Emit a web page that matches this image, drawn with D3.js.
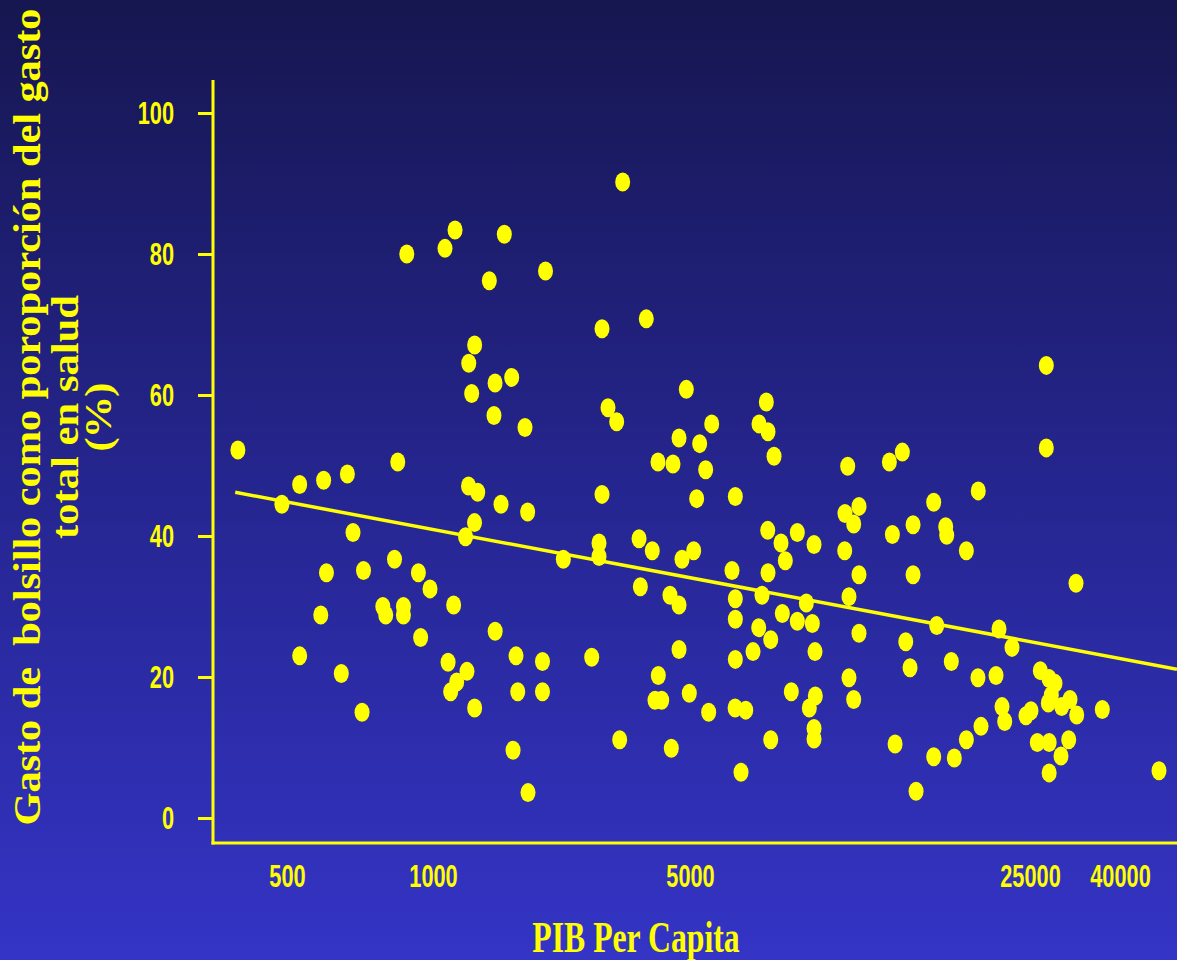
<!doctype html>
<html>
  <head>
    <meta charset="utf-8">
    <title>Gasto de bolsillo vs PIB per capita</title>
    <script src="https://cdnjs.cloudflare.com/ajax/libs/d3/7.8.5/d3.min.js"></script>
    <style>
      body { margin: 0; background: #24248f; }
      svg { display: block; }
    </style>
  </head>
  <body>
    <svg></svg>
    <script>

      // PIB per capita (x) for every country
      var gdp = [396, 488, 531, 531, 595, 603, 587, 666, 684, 647,
                 719, 714, 788, 799, 833, 846, 869, 869, 883, 933,
                 986, 1138, 943, 1078, 1148, 1099, 1237, 1160, 1117, 1298,
                 1226, 1297, 1249, 1323, 1251, 1298, 1274, 1475, 1637, 1465,
                 1423, 1563, 1779, 1531, 1809, 1476, 1682, 1700, 1651, 1813,
                 1985, 1985, 2023, 2262,
                 2702, 2828, 2828, 2882, 2882, 2992, 3159, 3280, 3219, 3634,
                 3664, 3803, 3948, 4092, 4100, 4016, 4188, 4411, 4495, 4448,
                 4668, 4668, 4668, 4756, 4886, 4978, 5088, 5160, 5234, 5385,
                 5462, 5541, 6100, 6197, 6197, 6197, 6197, 6190, 6509, 6366,
                 6738, 6932, 6922, 7031, 7176, 7224, 7234, 7234, 7327, 7327,
                 7443, 7693, 7741, 7851, 8077, 8310, 8310, 8672, 8796, 8922,
                 8994, 8994, 8994, 9036, 9049, 10414, 10400, 10548, 10613, 10613,
                 10852, 10852, 11127, 11127, 11127,
                 12848, 13662, 13032, 13200, 13884, 14169, 14372, 14372, 14578, 15848,
                 15848, 16076, 16775, 16855, 17225, 17473, 18497, 18497, 19569, 19540,
                 19826, 21286, 21590, 21899, 22180, 22960, 24525, 25131, 25972, 26382,
                 27222, 27222, 27608, 27508, 27630, 27630, 27942, 28487, 29501, 29393,
                 30600, 30810, 31790, 31906, 36470, 49036];

      // gasto de bolsillo, % del gasto total en salud (y), same order
      var share = [52.2, 44.5, 47.3, 23.0, 47.9, 34.8, 28.8, 48.8, 40.5, 20.5,
                   35.1, 15.0, 30.0, 28.8, 36.7, 50.5, 30.0, 28.8, 80.0, 34.8,
                   32.5, 30.2, 25.6, 80.8, 83.4, 22.1, 20.8, 19.3, 17.9, 15.6,
                   39.9, 41.9, 47.1, 46.2, 64.5, 67.1, 60.2, 61.7, 62.5, 57.1,
                   76.2, 82.8, 55.4, 44.5, 43.4, 26.5, 23.0, 17.9, 9.6, 3.6,
                   22.2, 17.9, 77.6, 36.7,
                   22.8, 39.0, 37.1, 45.9, 69.4, 58.2, 56.2, 90.2, 11.1, 39.6,
                   32.8, 70.8, 37.9, 50.5, 20.2, 16.7, 16.7, 31.6, 50.2, 9.9,
                   53.9, 30.2, 23.9, 36.7, 60.8, 17.7, 37.9, 45.3, 53.1, 49.4,
                   15.0, 55.9, 35.1, 45.6, 31.1, 28.2, 22.5, 15.6, 15.3, 6.5,
                   23.6, 55.9, 27.0, 31.6, 59.0, 40.8, 54.8, 34.8, 25.3, 11.1,
                   51.3, 39.0, 29.0, 36.5, 17.9, 40.5, 27.9, 30.5, 15.6, 27.6,
                   38.8, 12.7, 11.2, 23.6, 17.3, 43.2, 37.9, 49.9, 31.4, 19.9,
                   41.7, 16.8, 44.2, 34.5, 26.2,
                   50.5, 51.9, 40.2, 10.5, 25.0, 21.3, 41.6, 34.5, 3.8, 44.8,
                   8.7, 27.3, 41.3, 40.1, 22.2, 8.5, 37.9, 11.1, 46.4, 19.9,
                   13.0, 20.2, 26.8, 15.8, 13.7, 24.2, 14.5, 15.2, 10.7, 20.9,
                   64.2, 52.5, 19.8, 16.3, 10.7, 6.4, 17.4, 19.1, 15.8, 8.8,
                   11.1, 16.8, 33.3, 14.6, 15.4, 6.7];

      // fitted line, two ends
      var trendGdp = [391, 53860];
      var trendShare = [46.2, 21.1];

      var xTicks = [500, 1000, 5000, 25000, 40000];
      var yTicks = [0, 20, 40, 60, 80, 100];

      var yTitle = ["Gasto de  bolsillo como poroporción del gasto", "total en salud", "(%)"];
      var xTitle = "PIB Per Capita";

      var width = 1177, height = 960;
      var yellow = "#ffff00";
      var squeeze = 0.68;  // the slide's labels are squashed sideways

      var svg = d3.select("svg")
          .attr("width", width)
          .attr("height", height);

      // background gradient
      var defs = svg.append("defs");
      var bg = defs.append("linearGradient")
          .attr("id", "bg")
          .attr("x1", 0).attr("y1", 0).attr("x2", 0).attr("y2", 1);
      bg.append("stop").attr("offset", 0).attr("stop-color", "#161650");
      bg.append("stop").attr("offset", 0.5).attr("stop-color", "#25258f");
      bg.append("stop").attr("offset", 1).attr("stop-color", "#3434c6");

      svg.append("rect")
          .attr("width", width)
          .attr("height", height)
          .attr("fill", "url(#bg)");

      // plot frame (plotTop, not "top": that one is taken by window)
      var plotLeft = 213, plotTop = 80, plotBottom = 843, plotRight = width;

      // the labels on this slide are not evenly spaced, so the log scale is piecewise
      var x = d3.scaleLog()
          .domain(xTicks)
          .range([287, 433, 690, 1030, 1120]);

      var y = d3.scaleLinear()
          .domain([0, 100])
          .range([818, 113]);

      var yAxis = d3.axisLeft(y)
          .tickValues(yTicks)
          .tickSize(15)
          .tickPadding(24);

      var gy = svg.append("g")
          .attr("transform", "translate(" + plotLeft + ",0)")
          .call(yAxis);

      var xAxis = d3.axisBottom(x)
          .tickValues(xTicks)
          .tickFormat(d3.format("d"))
          .tickSize(0)
          .tickPadding(21);

      var gx = svg.append("g")
          .attr("transform", "translate(0," + plotBottom + ")")
          .call(xAxis);

      [gy, gx].forEach(function(g) {
        g.select(".domain").remove();
        g.selectAll(".tick line").attr("stroke", yellow).attr("stroke-width", 3);
        g.selectAll(".tick text")
            .attr("fill", yellow)
            .style("font-family", "'Liberation Sans', Arial, sans-serif")
            .style("font-weight", "bold")
            .style("font-size", "32px")
            .attr("x", function() { return +d3.select(this).attr("x") / squeeze; })
            .attr("transform", "scale(" + squeeze + ",1)");
      });

      // axis lines
      svg.append("line")
          .attr("x1", plotLeft).attr("y1", plotTop)
          .attr("x2", plotLeft).attr("y2", plotBottom + 1.5)
          .attr("stroke", yellow).attr("stroke-width", 3);
      svg.append("line")
          .attr("x1", plotLeft - 1.5).attr("y1", plotBottom)
          .attr("x2", plotRight).attr("y2", plotBottom)
          .attr("stroke", yellow).attr("stroke-width", 3);

      // countries
      svg.append("g").selectAll("ellipse")
          .data(d3.range(gdp.length))
          .join("ellipse")
          .attr("cx", function(i) { return x(gdp[i]); })
          .attr("cy", function(i) { return y(share[i]); })
          .attr("rx", 7.5)
          .attr("ry", 9.5)
          .attr("fill", yellow);

      // regression line
      var line = d3.line()
          .x(function(i) { return x(trendGdp[i]); })
          .y(function(i) { return y(trendShare[i]); });

      svg.append("path")
          .attr("d", line([0, 1]))
          .attr("fill", "none")
          .attr("stroke", yellow)
          .attr("stroke-width", 3.5);

      // titles
      svg.append("text")
          .attr("transform", "translate(636,952) scale(0.705,1)")
          .attr("text-anchor", "middle")
          .attr("fill", yellow)
          .style("font-family", "'Liberation Serif', 'Times New Roman', serif")
          .style("font-weight", "bold")
          .style("font-size", "45px")
          .text(xTitle);

      var titleX = [40, 78, 111];
      var titleLen = [817, 244, 69];
      yTitle.forEach(function(t, i) {
        svg.append("text")
            .attr("transform", "translate(" + titleX[i] + ",417) scale(0.9,1) rotate(-90)")
            .attr("text-anchor", "middle")
            .attr("fill", yellow)
            .attr("textLength", titleLen[i])
            .attr("lengthAdjust", "spacing")
            .style("white-space", "pre")
            .style("font-family", "'Liberation Serif', 'Times New Roman', serif")
            .style("font-weight", "bold")
            .style("font-size", "42.5px")
            .text(t);
      });

    </script>
  </body>
</html>
